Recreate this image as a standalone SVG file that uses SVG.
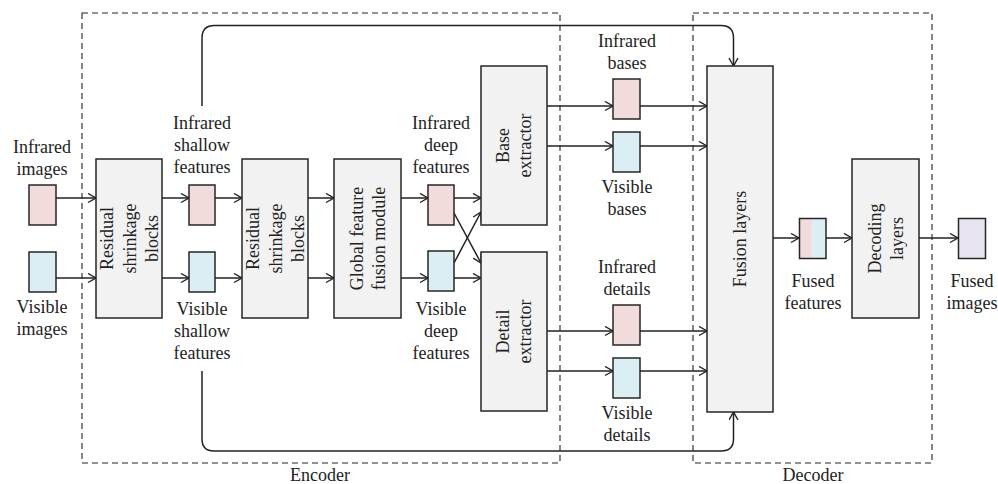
<svg xmlns="http://www.w3.org/2000/svg" width="998" height="484" viewBox="0 0 998 484">
<defs>
<marker id="ah" markerUnits="userSpaceOnUse" markerWidth="12" markerHeight="12" refX="9" refY="5" orient="auto">
<path d="M1,0.5 L9,5 L1,9.5" fill="none" stroke="#222" stroke-width="1.4"/>
</marker>
<style>
text{font-family:"Liberation Serif","Times New Roman",serif;font-size:18px;fill:#222;text-anchor:middle}
.blk{fill:#f2f2f2;stroke:#262626;stroke-width:1.5}
.ir{fill:#f2dcdb;stroke:#262626;stroke-width:1.5}
.vi{fill:#dbeef4;stroke:#262626;stroke-width:1.5}
.fu{fill:#e8e4ef;stroke:#262626;stroke-width:1.5}
.dash{fill:none;stroke:#222;stroke-width:1.1;stroke-dasharray:6 4}
.c{fill:none;stroke:#222;stroke-width:1.5;marker-end:url(#ah)}
</style>
</defs>
<rect width="998" height="484" fill="#fff"/>

<g id="encoder">
<rect class="dash" x="82" y="13" width="478" height="450"/>
<text x="320" y="481">Encoder</text>
</g>
<g id="decoder">
<rect class="dash" x="693" y="13" width="239" height="450"/>
<text x="813" y="481">Decoder</text>
</g>

<g id="connectors">
<path class="c" d="M56,198 H96"/>
<path class="c" d="M56,278 H96"/>
<path class="c" d="M162,198 H189"/>
<path class="c" d="M162,278 H189"/>
<path class="c" d="M215,198 H242"/>
<path class="c" d="M215,278 H242"/>
<path class="c" d="M308,198 H334"/>
<path class="c" d="M308,278 H334"/>
<path class="c" d="M401,198 H428"/>
<path class="c" d="M401,278 H428"/>
<path class="c" d="M454,198 H481"/>
<path class="c" d="M454,278 H481"/>
<path class="c" d="M454,213 L481,263"/>
<path class="c" d="M454,263 L481,212"/>
<path class="c" d="M547,106 H613"/>
<path class="c" d="M547,146 H613"/>
<path class="c" d="M640,106 H707"/>
<path class="c" d="M640,146 H707"/>
<path class="c" d="M547,331 H613"/>
<path class="c" d="M547,371 H613"/>
<path class="c" d="M640,331 H707"/>
<path class="c" d="M640,371 H707"/>
<path class="c" d="M773,238 H799"/>
<path class="c" d="M826,238 H852"/>
<path class="c" d="M919,238 H958"/>
<path class="c" d="M202,106 V38 Q202,25.5 214.5,25.5 H721 Q733.5,25.5 733.5,38 V66"/>
<path class="c" d="M202,371 V439 Q202,451 214,451 H721 Q733.5,451 733.5,439 V412"/>
</g>

<g id="infrared-images">
<rect class="ir" x="29" y="185" width="27" height="40"/>
<text x="42" y="153">Infrared</text>
<text x="42" y="175">images</text>
</g>
<g id="visible-images">
<rect class="vi" x="29" y="252" width="27" height="40"/>
<text x="42" y="313">Visible</text>
<text x="42" y="335">images</text>
</g>

<g id="rsb1">
<rect class="blk" x="96" y="159" width="66" height="159"/>
<g transform="translate(129,238.5) rotate(-90)">
<text x="0" y="-16">Residual</text>
<text x="0" y="7">shrinkage</text>
<text x="0" y="29">blocks</text>
</g>
</g>

<g id="infrared-shallow">
<rect class="ir" x="189" y="185" width="26" height="40"/>
<text x="202" y="129">Infrared</text>
<text x="202" y="151">shallow</text>
<text x="202" y="173">features</text>
</g>
<g id="visible-shallow">
<rect class="vi" x="189" y="252" width="26" height="40"/>
<text x="202" y="315">Visible</text>
<text x="202" y="337">shallow</text>
<text x="202" y="359">features</text>
</g>

<g id="rsb2">
<rect class="blk" x="242" y="159" width="66" height="159"/>
<g transform="translate(275,238.5) rotate(-90)">
<text x="0" y="-16">Residual</text>
<text x="0" y="7">shrinkage</text>
<text x="0" y="29">blocks</text>
</g>
</g>

<g id="global-fusion">
<rect class="blk" x="334" y="159" width="67" height="159"/>
<g transform="translate(367.5,238.5) rotate(-90)">
<text x="0" y="-5">Global feature</text>
<text x="0" y="17">fusion module</text>
</g>
</g>

<g id="infrared-deep">
<rect class="ir" x="428" y="185" width="26" height="40"/>
<text x="441" y="129">Infrared</text>
<text x="441" y="151">deep</text>
<text x="441" y="173">features</text>
</g>
<g id="visible-deep">
<rect class="vi" x="428" y="251" width="26" height="40"/>
<text x="441" y="315">Visible</text>
<text x="441" y="337">deep</text>
<text x="441" y="359">features</text>
</g>

<g id="base-extractor">
<rect class="blk" x="481" y="66" width="66" height="159"/>
<g transform="translate(514,145.5) rotate(-90)">
<text x="0" y="-5">Base</text>
<text x="0" y="17">extractor</text>
</g>
</g>
<g id="detail-extractor">
<rect class="blk" x="481" y="252" width="66" height="159"/>
<g transform="translate(514,331.5) rotate(-90)">
<text x="0" y="-5">Detail</text>
<text x="0" y="17">extractor</text>
</g>
</g>

<g id="infrared-bases">
<rect class="ir" x="613" y="79" width="27" height="40"/>
<text x="627" y="47">Infrared</text>
<text x="627" y="69">bases</text>
</g>
<g id="visible-bases">
<rect class="vi" x="613" y="132" width="27" height="40"/>
<text x="627" y="193">Visible</text>
<text x="627" y="215">bases</text>
</g>
<g id="infrared-details">
<rect class="ir" x="613" y="305" width="27" height="40"/>
<text x="627" y="273">Infrared</text>
<text x="627" y="295">details</text>
</g>
<g id="visible-details">
<rect class="vi" x="613" y="358" width="27" height="40"/>
<text x="627" y="419">Visible</text>
<text x="627" y="441">details</text>
</g>

<g id="fusion-layers">
<rect class="blk" x="707" y="66" width="66" height="346"/>
<g transform="translate(740,239) rotate(-90)">
<text x="0" y="6">Fusion layers</text>
</g>
</g>

<g id="fused-features">
<rect x="799.5" y="218.5" width="13" height="40" fill="#f2dcdb"/>
<rect x="812.5" y="218.5" width="13.5" height="40" fill="#dbeef4"/>
<rect x="799.5" y="218.5" width="26.5" height="40" fill="none" stroke="#262626" stroke-width="1.5"/>
<text x="813" y="287">Fused</text>
<text x="813" y="309">features</text>
</g>

<g id="decoding-layers">
<rect class="blk" x="852" y="159" width="67" height="159"/>
<g transform="translate(885.5,238.5) rotate(-90)">
<text x="0" y="-5">Decoding</text>
<text x="0" y="17">layers</text>
</g>
</g>

<g id="fused-images">
<rect class="fu" x="958.5" y="218.5" width="27" height="40"/>
<text x="972" y="287">Fused</text>
<text x="972" y="309">images</text>
</g>
</svg>
